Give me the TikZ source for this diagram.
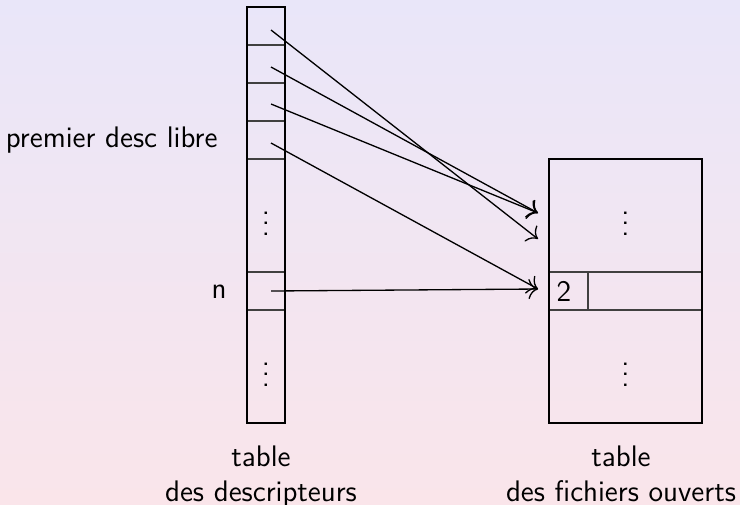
\documentclass[tikz,border=0pt]{standalone}
\usetikzlibrary{calc,arrows.meta}
\newcommand{\pxu}{0.38pt}
\definecolor{bgtop}{RGB}{233,230,249}
\definecolor{bgbot}{RGB}{250,229,234}
\begin{document}
\begin{tikzpicture}[x=0.38pt,y=-0.38pt,
  font=\sffamily\fontsize{11.3}{13.6}\selectfont,
  cell/.style={draw=black!75, line width=0.4pt, inner sep=0pt, outer sep=0pt, minimum width=38*\pxu},
  frame/.style={draw=black, semithick},
  arr/.style={-{To[scale=1.35]}, line width=0.5pt},
  lbl/.style={inner sep=0pt}]
\fill[top color=bgtop, bottom color=bgbot] (0,0) rectangle (740,504);
\useasboundingbox (0,0) rectangle (740,504);
% descriptor table
\node[cell, minimum height=38*\pxu] (d1) at (266,26) {};
\node[cell, minimum height=38*\pxu] (d2) at (266,64) {};
\node[cell, minimum height=38*\pxu] (d3) at (266,102) {};
\node[cell, minimum height=38*\pxu] (d4) at (266,140) {};
\node[cell, minimum height=113*\pxu] (dA) at (266,215.5) {$\vdots$};
\node[cell, minimum height=38*\pxu] (dn) at (266,291) {};
\node[cell, minimum height=113*\pxu] (dB) at (266,366.5) {$\vdots$};
\draw[frame] (d1.north west) rectangle (dB.south east);
% open files table
\node[cell, minimum width=153*\pxu, minimum height=113*\pxu] (r1) at (625.5,215.5) {$\vdots$};
\node[cell, minimum width=39*\pxu, minimum height=38*\pxu] (r2a) at (568.5,291) {};
\node[cell, minimum width=114*\pxu, minimum height=38*\pxu] (r2b) at (645,291) {};
\node[cell, minimum width=153*\pxu, minimum height=113*\pxu] (r3) at (625.5,366.5) {$\vdots$};
\draw[frame] (r1.north west) rectangle (r3.south east);
\node[lbl] (two) at (564,291) {2};
% labels
\node[lbl, anchor=base east] (free) at (218,147) {premier desc libre};
\node[lbl, anchor=base east] (nlab) at (227,298) {n};
\node[lbl, align=center, anchor=north] (ldesc) at (261,445) {table\\des descripteurs};
\node[lbl, align=center, anchor=north] (lfich) at (621,445) {table\\des fichiers ouverts};
% arrow targets
\coordinate (t1) at ($(r1.west)+(-11,-2.5)$);
\coordinate (t2) at ($(r1.west)+(-11,23.5)$);
\coordinate (t3) at ($(r2a.west)+(-11,-2)$);
% arrows
\draw[arr] ($(d1.center)+(5,4)$) -- (t2);
\draw[arr] ($(d2.center)+(5,3)$) -- (t1);
\draw[arr] ($(d3.center)+(5,2)$) -- (t1);
\draw[arr] ($(d4.center)+(5,3)$) -- (t3);
\draw[arr] ($(dn.center)+(5,0)$) -- (t3);
\end{tikzpicture}
\end{document}
